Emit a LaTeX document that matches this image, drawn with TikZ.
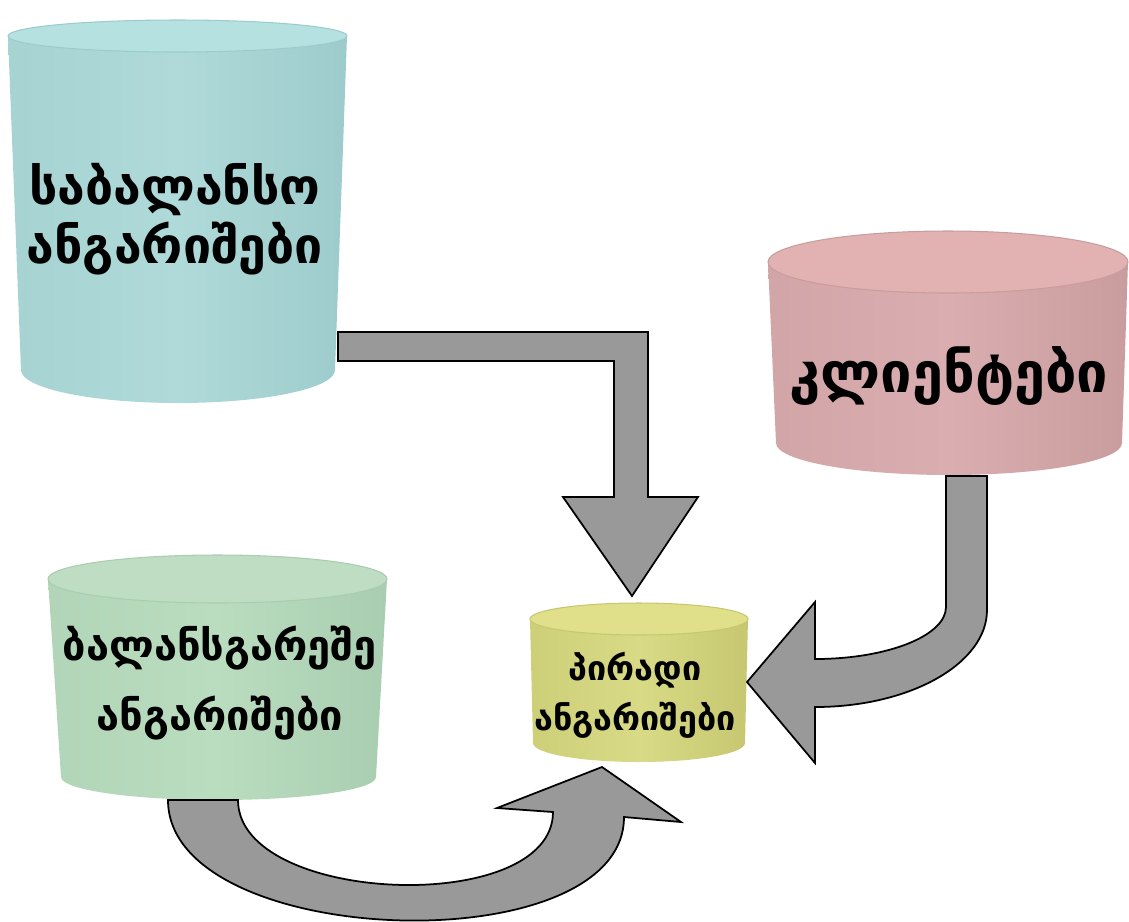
\documentclass[tikz,border=0pt]{standalone}
\usepackage{fontspec}
\newfontfamily\geofont{DejaVu Sans}
\definecolor{tealbody}{HTML}{B0DADA}
\definecolor{tealedge}{HTML}{9DCBCB}
\definecolor{tealtop}{HTML}{B5E1E1}
\definecolor{pinkbody}{HTML}{DAAEB0}
\definecolor{pinkedge}{HTML}{C99C9E}
\definecolor{pinktop}{HTML}{E2B2B2}
\definecolor{greenbody}{HTML}{BADDC0}
\definecolor{greenedge}{HTML}{A9CDB0}
\definecolor{greentop}{HTML}{BEDDC3}
\definecolor{yellowbody}{HTML}{D9DA85}
\definecolor{yellowedge}{HTML}{C6C770}
\definecolor{yellowtop}{HTML}{E0E08A}
\definecolor{arrowgray}{HTML}{999999}
\tikzstyle{blockarrow}=[fill=arrowgray,draw=black,line width=1pt,line join=miter]
\tikzstyle{geotext}=[align=center,anchor=base,inner sep=0pt]

\begin{document}
\begin{tikzpicture}[x=0.02cm,y=-0.02cm]
\useasboundingbox (0,0) rectangle (1129,921);
% cylinders
\path[left color=tealedge!50!tealbody,right color=tealedge,middle color=tealbody] (8,36) -- (21,370) arc[start angle=180,end angle=0,x radius=157,y radius=33] -- (347,36) -- cycle;
\draw[tealedge,fill=tealtop,line width=0.6pt] (177.5,36) ellipse[x radius=169.5,y radius=16];
\path[left color=pinkedge!50!pinkbody,right color=pinkedge,middle color=pinkbody] (768,262) -- (776,443) arc[start angle=180,end angle=0,x radius=173,y radius=32] -- (1128,262) -- cycle;
\draw[pinkedge,fill=pinktop,line width=0.6pt] (948,262) ellipse[x radius=180,y radius=31];
\path[left color=greenedge!50!greenbody,right color=greenedge,middle color=greenbody] (48,579) -- (61,777) arc[start angle=180,end angle=0,x radius=157.5,y radius=23] -- (387,579) -- cycle;
\draw[greenedge,fill=greentop,line width=0.6pt] (217.5,579) ellipse[x radius=169.5,y radius=24];
\path[left color=yellowedge!60!yellowbody,right color=yellowedge,middle color=yellowbody] (530,619) -- (533,743) arc[start angle=180,end angle=0,x radius=106,y radius=19] -- (748,619) -- cycle;
\draw[yellowedge,fill=yellowtop,line width=0.6pt] (639,619) ellipse[x radius=109,y radius=16];
% texts
\node[geotext,font=\geofont\bfseries\fontsize{28.5}{33.5}\selectfont] (sabalanso) at (175,263) {საბალანსო\\ანგარიშები};
\node[geotext,font=\geofont\bfseries\fontsize{31.8}{35}\selectfont] (klientebi) at (949,392) {კლიენტები};
\node[geotext,font=\geofont\bfseries\fontsize{23.7}{39.7}\selectfont] (balansgareshe) at (220,730) {ბალანსგარეშე\\ანგარიშები};
\node[geotext,font=\geofont\bfseries\fontsize{19.4}{28.4}\selectfont] (piradi) at (635,730) {პირადი\\ანგარიშები};
% arrows
\draw[blockarrow] (338,332) -- (648,332) -- (648,497) -- (698,497) -- (632,596) -- (563,497) -- (614,497) -- (614,361) -- (338,361) -- cycle;
\draw[blockarrow] (946,476) -- (987,476) -- (987,610) arc[start angle=0,end angle=90,x radius=172,y radius=97] -- (815,763) -- (747,682) -- (815,602) -- (815,659) arc[start angle=90,end angle=0,x radius=131,y radius=52] -- cycle;
\draw[blockarrow] (168,800) -- (238,800) .. controls (238,905) and (553,917) .. (553,812) -- (497,808) -- (602,767) -- (681,822) -- (624,817) .. controls (624,965) and (168,950) .. (168,800) -- cycle;
\end{tikzpicture}
\end{document}
